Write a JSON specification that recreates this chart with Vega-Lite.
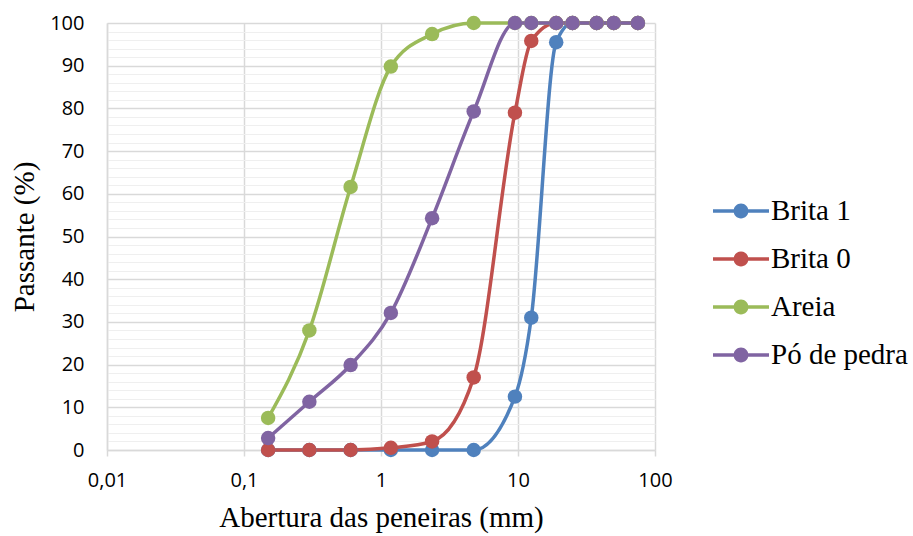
{
  "$schema": "https://vega.github.io/schema/vega-lite/v6.json",
  "autosize": "none",
  "width": 548,
  "height": 427,
  "padding": {"left": 107, "top": 23, "right": 258, "bottom": 86},
  "background": "white",
  "config": {"view": {"stroke": null}},
  "data": {"values": [
    {"serie": "Brita 1", "abertura": 0.15, "passante": 0},
    {"serie": "Brita 1", "abertura": 0.3, "passante": 0},
    {"serie": "Brita 1", "abertura": 0.6, "passante": 0},
    {"serie": "Brita 1", "abertura": 1.18, "passante": 0},
    {"serie": "Brita 1", "abertura": 2.36, "passante": 0},
    {"serie": "Brita 1", "abertura": 4.75, "passante": 0},
    {"serie": "Brita 1", "abertura": 9.5, "passante": 12.5},
    {"serie": "Brita 1", "abertura": 12.5, "passante": 31},
    {"serie": "Brita 1", "abertura": 19, "passante": 95.5},
    {"serie": "Brita 1", "abertura": 25, "passante": 100},
    {"serie": "Brita 1", "abertura": 37.5, "passante": 100},
    {"serie": "Brita 1", "abertura": 50, "passante": 100},
    {"serie": "Brita 1", "abertura": 75, "passante": 100},
    {"serie": "Brita 0", "abertura": 0.15, "passante": 0},
    {"serie": "Brita 0", "abertura": 0.3, "passante": 0},
    {"serie": "Brita 0", "abertura": 0.6, "passante": 0},
    {"serie": "Brita 0", "abertura": 1.18, "passante": 0.5},
    {"serie": "Brita 0", "abertura": 2.36, "passante": 2},
    {"serie": "Brita 0", "abertura": 4.75, "passante": 17},
    {"serie": "Brita 0", "abertura": 9.5, "passante": 79},
    {"serie": "Brita 0", "abertura": 12.5, "passante": 95.8},
    {"serie": "Brita 0", "abertura": 19, "passante": 100},
    {"serie": "Brita 0", "abertura": 25, "passante": 100},
    {"serie": "Brita 0", "abertura": 37.5, "passante": 100},
    {"serie": "Brita 0", "abertura": 50, "passante": 100},
    {"serie": "Brita 0", "abertura": 75, "passante": 100},
    {"serie": "Areia", "abertura": 0.15, "passante": 7.5},
    {"serie": "Areia", "abertura": 0.3, "passante": 28},
    {"serie": "Areia", "abertura": 0.6, "passante": 61.6},
    {"serie": "Areia", "abertura": 1.18, "passante": 89.8},
    {"serie": "Areia", "abertura": 2.36, "passante": 97.4},
    {"serie": "Areia", "abertura": 4.75, "passante": 100},
    {"serie": "Areia", "abertura": 9.5, "passante": 100},
    {"serie": "Areia", "abertura": 12.5, "passante": 100},
    {"serie": "Areia", "abertura": 19, "passante": 100},
    {"serie": "Areia", "abertura": 25, "passante": 100},
    {"serie": "Areia", "abertura": 37.5, "passante": 100},
    {"serie": "Areia", "abertura": 50, "passante": 100},
    {"serie": "Areia", "abertura": 75, "passante": 100},
    {"serie": "Pó de pedra", "abertura": 0.15, "passante": 2.8},
    {"serie": "Pó de pedra", "abertura": 0.3, "passante": 11.3},
    {"serie": "Pó de pedra", "abertura": 0.6, "passante": 19.9},
    {"serie": "Pó de pedra", "abertura": 1.18, "passante": 32.1},
    {"serie": "Pó de pedra", "abertura": 2.36, "passante": 54.3},
    {"serie": "Pó de pedra", "abertura": 4.75, "passante": 79.3},
    {"serie": "Pó de pedra", "abertura": 9.5, "passante": 100},
    {"serie": "Pó de pedra", "abertura": 12.5, "passante": 100},
    {"serie": "Pó de pedra", "abertura": 19, "passante": 100},
    {"serie": "Pó de pedra", "abertura": 25, "passante": 100},
    {"serie": "Pó de pedra", "abertura": 37.5, "passante": 100},
    {"serie": "Pó de pedra", "abertura": 50, "passante": 100},
    {"serie": "Pó de pedra", "abertura": 75, "passante": 100}
  ]},
  "encoding": {
    "x": {
      "field": "abertura", "type": "quantitative",
      "scale": {"type": "log", "domain": [0.01, 100], "nice": false},
      "axis": {
        "values": [0.01, 0.1, 1, 10, 100],
        "labelExpr": "replace(toString(datum.value), '.', ',')",
        "title": "Abertura das peneiras (mm)",
        "grid": true, "gridColor": "#d9d9d9", "gridWidth": 1.5,
        "domainColor": "#d9d9d9", "domainWidth": 1.5,
        "ticks": true, "tickColor": "#d9d9d9", "tickSize": 6, "tickWidth": 1.5,
        "labelFont": "Open Sans", "labelFontSize": 20, "labelColor": "#000000",
        "labelPadding": 14, "labelFlush": false,
        "titleFont": "Liberation Serif", "titleFontSize": 29, "titleFontWeight": "normal",
        "titleColor": "#000000", "titlePadding": 13
      }
    },
    "y": {
      "field": "passante", "type": "quantitative",
      "scale": {"domain": [0, 100], "nice": false, "zero": true},
      "axis": {
        "values": [0,2,4,6,8,10,12,14,16,18,20,22,24,26,28,30,32,34,36,38,40,42,44,46,48,50,52,54,56,58,60,62,64,66,68,70,72,74,76,78,80,82,84,86,88,90,92,94,96,98,100],
        "labelExpr": "datum.value % 10 === 0 ? datum.label : ''",
        "title": "Passante (%)",
        "grid": true,
        "gridColor": {"condition": {"test": "datum.value % 10 === 0", "value": "#d9d9d9"}, "value": "#efefef"},
        "gridWidth": {"condition": {"test": "datum.value % 10 === 0", "value": 1.5}, "value": 1},
        "domainColor": "#d9d9d9", "domainWidth": 1.5,
        "ticks": false,
        "labelFont": "Open Sans", "labelFontSize": 20, "labelColor": "#000000",
        "labelPadding": 23,
        "titleFont": "Liberation Serif", "titleFontSize": 29, "titleFontWeight": "normal",
        "titleColor": "#000000", "titlePadding": 10
      }
    },
    "color": {
      "field": "serie", "type": "nominal",
      "scale": {"domain": ["Brita 1", "Brita 0", "Areia", "Pó de pedra"], "range": ["#4f81bd", "#c0504d", "#9bbb59", "#8064a2"]},
      "legend": {
        "orient": "none", "legendX": 614, "legendY": 168,
        "title": null, "padding": 0,
        "symbolType": "M-1.4,-0.09L1.4,-0.09L1.4,0.09L-1.4,0.09Z M-0.37,0A0.37,0.37 0 1 1 0.37,0A0.37,0.37 0 1 1 -0.37,0Z",
        "symbolSize": 1600, "symbolStrokeWidth": 0,
        "labelFont": "Liberation Serif", "labelFontSize": 29, "labelColor": "#000000",
        "labelOffset": 10, "rowPadding": 13, "labelLimit": 300,
        "encode": {"symbols": {"update": {"fill": {"scale": "color", "field": "value"}, "opacity": {"value": 1}, "strokeWidth": {"value": 0}}}}
      }
    }
  },
  "layer": [
    {"mark": {"type": "line", "interpolate": "monotone", "strokeWidth": 3.5}},
    {"mark": {"type": "point", "filled": true, "opacity": 1, "size": 210}}
  ]
}
